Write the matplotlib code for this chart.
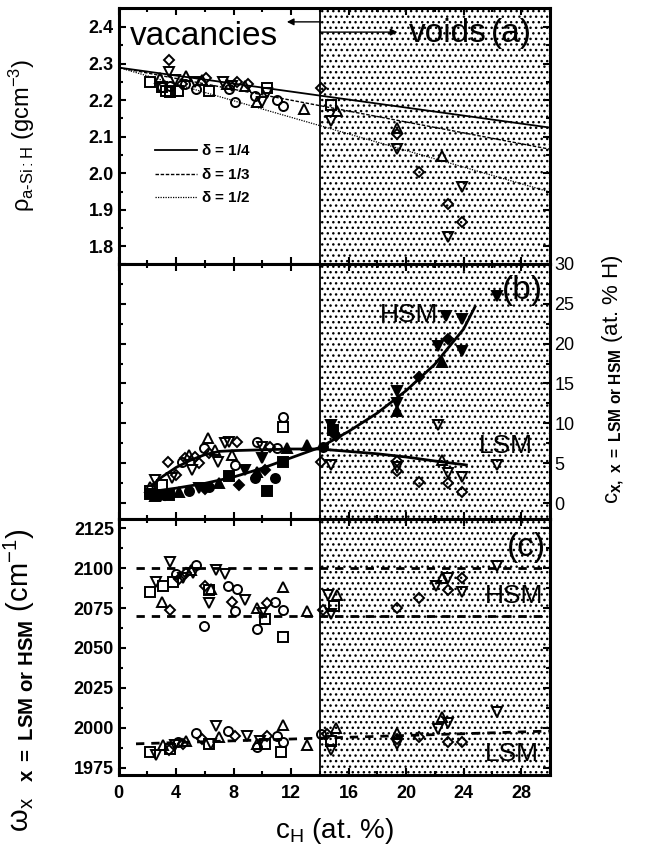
import matplotlib
matplotlib.use("Agg")
import matplotlib.pyplot as plt
from matplotlib.ticker import MultipleLocator

plt.rcParams["font.family"] = ["Liberation Sans", "DejaVu Sans"]
plt.rcParams["mathtext.fontset"] = "custom"
plt.rcParams["mathtext.rm"] = "Liberation Sans"
plt.rcParams["mathtext.it"] = "Liberation Sans:italic"
plt.rcParams["mathtext.bf"] = "Liberation Sans:bold"
plt.rcParams["hatch.linewidth"] = 1.0

# ---- panel (a): density ----------------------------------------------------
a_sq_x = [2.2, 3.0, 3.3, 3.6, 4.1, 6.3, 10.3, 14.8]
a_sq_y = [2.25, 2.235, 2.225, 2.222, 2.225, 2.225, 2.233, 2.188]
a_ci_x = [3.0, 3.6, 4.6, 5.4, 7.7, 8.1, 9.5, 11.0, 11.4]
a_ci_y = [2.235, 2.24, 2.245, 2.23, 2.23, 2.195, 2.21, 2.2, 2.183]
a_up_x = [2.9, 4.7, 5.8, 7.5, 8.8, 9.6, 12.9, 15.2, 19.35, 22.5]
a_up_y = [2.26, 2.265, 2.255, 2.245, 2.24, 2.195, 2.175, 2.17, 2.125, 2.047]
a_dn_x = [3.5, 3.9, 5.3, 7.25, 7.9, 10.0, 10.3, 14.8, 19.35, 23.9, 22.9]
a_dn_y = [2.278, 2.255, 2.25, 2.25, 2.24, 2.196, 2.22, 2.142, 2.066, 1.962, 1.826]
a_di_x = [3.5, 4.4, 6.1, 8.2, 9.0, 14.1, 19.35, 20.9, 22.9, 23.9]
a_di_y = [2.31, 2.245, 2.26, 2.25, 2.245, 2.233, 2.107, 2.003, 1.916, 1.867]

fit_x = [0, 30]
rho_d14 = [2.289, 2.125]
rho_d13 = [2.289, 2.066]
rho_d12 = [2.289, 1.949]

# ---- panel (b): concentrations ---------------------------------------------
# open = LSM, filled = HSM
bl_sq = [(2.16, 1.6), (3.0, 2.3), (11.4, 9.6)]
bl_ci = [(4.4, 5.2), (5.9, 6.9), (8.1, 4.8), (9.6, 7.7), (11.0, 6.9), (11.4, 10.8)]
bl_up = [(2.2, 2.0), (4.9, 6.1), (6.2, 8.2), (6.7, 6.7), (7.9, 6.1), (22.5, 5.4)]
bl_dn = [(2.5, 2.9), (3.7, 3.2), (5.1, 4.2), (6.9, 5.2), (7.4, 7.6), (7.7, 7.7),
         (10.0, 7.1), (14.8, 4.8), (19.35, 4.6), (22.2, 9.8), (22.9, 3.8),
         (23.9, 3.3), (26.3, 4.8)]
bl_di = [(3.4, 5.2), (4.0, 3.5), (4.6, 5.7), (5.3, 5.8), (5.6, 5.0), (6.3, 6.3),
         (8.2, 7.7), (10.5, 7.1), (14.1, 5.2), (19.35, 5.3), (19.35, 4.0),
         (20.9, 2.7), (22.9, 2.5), (23.9, 1.4)]

bh_sq = [(2.2, 1.2), (3.5, 1.0), (7.7, 3.4), (10.3, 1.6), (11.4, 5.2), (14.9, 9.2)]
bh_ci = [(2.9, 1.0), (4.9, 1.6), (6.3, 2.0), (9.5, 3.2), (10.9, 3.2), (14.2, 7.1)]
bh_up = [(2.5, 0.9), (4.2, 1.4), (7.0, 2.5), (9.6, 3.9), (11.7, 6.9), (13.1, 7.3),
         (19.35, 11.5), (22.5, 17.7)]
bh_dn = [(5.6, 1.9), (8.8, 4.2), (10.0, 5.7), (14.8, 9.8), (19.35, 12.6),
         (19.35, 14.0), (22.2, 19.7), (23.9, 19.1), (22.8, 23.5), (23.9, 23.1),
         (26.3, 25.9)]
bh_di = [(3.2, 1.1), (6.0, 1.8), (8.4, 2.3), (10.2, 4.2), (15.1, 8.4),
         (20.9, 15.8), (22.9, 20.6)]

hsm_fit_x = [2.0, 4, 6, 8, 10, 12, 14, 16, 18, 20, 22, 24, 24.8]
hsm_fit_y = [1.4, 1.9, 2.5, 3.3, 4.4, 5.7, 7.0, 9.0, 11.3, 14.1, 17.4, 21.8, 24.6]
lsm_fit_x = [2.4, 3, 4, 5, 6, 7, 8, 10, 12, 14, 16, 18, 20, 22, 24.2]
lsm_fit_y = [2.4, 3.3, 4.5, 5.4, 6.1, 6.5, 6.6, 6.7, 6.8, 6.8, 6.5, 6.2, 5.8, 5.3, 4.8]

# ---- panel (c): stretching mode frequencies --------------------------------
ch_sq = [(2.16, 2085), (3.1, 2089), (3.8, 2091), (6.3, 2086), (10.2, 2068),
         (11.4, 2057), (15.0, 2076)]
ch_ci = [(4.0, 2096), (5.4, 2102), (5.9, 2064), (7.6, 2089), (8.2, 2087),
         (8.1, 2073), (9.6, 2062), (10.9, 2079), (11.4, 2074)]
ch_up = [(3.0, 2079), (5.0, 2099), (6.4, 2087), (9.6, 2075), (11.4, 2088),
         (13.1, 2073), (15.2, 2083), (22.5, 2094)]
ch_dn = [(2.6, 2091), (3.55, 2104), (4.5, 2094), (5.2, 2097), (6.8, 2099),
         (7.4, 2096), (6.3, 2078), (8.8, 2080), (10.0, 2072), (14.6, 2083),
         (14.8, 2071), (22.1, 2089), (22.9, 2094), (23.9, 2085), (26.3, 2101)]
ch_di = [(3.55, 2074), (4.2, 2093), (4.7, 2097), (6.0, 2089), (7.9, 2079),
         (10.3, 2078), (14.2, 2074), (19.35, 2075), (20.9, 2081), (22.9, 2086),
         (23.9, 2094)]

cl_sq = [(2.16, 1985), (3.6, 1987), (6.3, 1990), (10.2, 1990), (11.3, 1985),
         (14.8, 1992)]
cl_ci = [(4.1, 1991), (5.4, 1997), (7.6, 1998), (9.6, 1988), (11.0, 1995),
         (11.4, 1991), (14.1, 1996)]
cl_up = [(3.1, 1989), (4.7, 1992), (7.0, 1994), (9.6, 1990), (11.4, 2002),
         (13.1, 1989), (15.1, 2000), (19.35, 1997), (22.5, 2007)]
cl_dn = [(2.6, 1983), (3.9, 1989), (6.4, 1990), (6.8, 2001), (8.9, 1995),
         (9.8, 1992), (14.8, 1986), (19.35, 1990), (22.2, 1999), (22.9, 2003),
         (26.3, 2010)]
cl_di = [(3.5, 1986), (4.5, 1990), (5.8, 1993), (8.1, 1995), (10.3, 1995),
         (14.5, 1996), (19.35, 1993), (20.9, 1994), (22.9, 1991), (23.9, 1991)]

hsm_lines = [2100, 2070]
lsm_line_x = [1.2, 30]
lsm_line_y = [1990, 1998]

VOID_START = 14

MK = {"sq": ("s", 6.5), "ci": ("o", 6.5), "up": ("^", 6.5),
      "dn": ("v", 6.5), "di": ("D", 5.0)}


def pts(ax, data, key, filled=False):
    m, ms = MK[key]
    xs = [p[0] for p in data]
    ys = [p[1] for p in data]
    ax.plot(xs, ys, ls="none", marker=m, ms=ms, mew=1.4, mec="k",
            mfc="k" if filled else "none", zorder=5)


def style(ax):
    ax.set_xlim(0, 30)
    ax.axvspan(VOID_START, 30, facecolor="white", edgecolor="k", hatch="...",
               lw=0, zorder=0)
    ax.axvline(VOID_START, color="k", lw=1.3, zorder=3)
    ax.xaxis.set_major_locator(MultipleLocator(4))
    ax.xaxis.set_minor_locator(MultipleLocator(2))
    ax.tick_params(which="both", direction="in", top=True, right=True,
                   width=1.5, labelsize=13)
    ax.tick_params(which="major", length=5)
    ax.tick_params(which="minor", length=3)
    ax.tick_params(axis="x", pad=7)
    for s in ax.spines.values():
        s.set_linewidth(2.2)
    for lab in ax.get_xticklabels() + ax.get_yticklabels():
        lab.set_fontweight("bold")


fig = plt.figure(figsize=(6.49, 8.48), dpi=100)
L, W, H = 0.183, 0.664, 0.3015
ax_a = fig.add_axes([L, 0.0861 + 2 * H, W, H])
ax_b = fig.add_axes([L, 0.0861 + H, W, H])
ax_c = fig.add_axes([L, 0.0861, W, H])

# panel (a)
ax_a.plot(fit_x, rho_d14, "k-", lw=1.3, label=r"$\mathbf{\delta}$ = 1/4")
ax_a.plot(fit_x, rho_d13, "k", ls=(0, (2.5, 1.2)), lw=1.0,
          label=r"$\mathbf{\delta}$ = 1/3")
ax_a.plot(fit_x, rho_d12, "k", ls=(0, (1, 1)), lw=0.9,
          label=r"$\mathbf{\delta}$ = 1/2")
pts(ax_a, list(zip(a_sq_x, a_sq_y)), "sq")
pts(ax_a, list(zip(a_ci_x, a_ci_y)), "ci")
pts(ax_a, list(zip(a_up_x, a_up_y)), "up")
pts(ax_a, list(zip(a_dn_x, a_dn_y)), "dn")
pts(ax_a, list(zip(a_di_x, a_di_y)), "di")
ax_a.set_ylim(1.753, 2.452)
ax_a.yaxis.set_major_locator(MultipleLocator(0.1))
ax_a.yaxis.set_minor_locator(MultipleLocator(0.05))
ax_a.yaxis.set_major_formatter(lambda v, p: f"{v:.1f}")
style(ax_a)
ax_a.tick_params(labelbottom=False)
leg = ax_a.legend(loc="upper left", bbox_to_anchor=(0.085, 0.47), frameon=False,
                  borderpad=0, borderaxespad=0, handlelength=2.7,
                  handletextpad=0.3, labelspacing=0.55,
                  prop={"size": 11, "weight": "bold"})
ax_a.text(0.75, 2.351, "vacancies", fontsize=24, ha="left", va="baseline")
ax_a.text(20.2, 2.359, "voids", fontsize=24, ha="left", va="baseline")
ax_a.text(25.9, 2.359, "(a)", fontsize=24, ha="left", va="baseline")
ax_a.annotate("", xy=(11.7, 2.414), xytext=(VOID_START, 2.414),
              arrowprops=dict(arrowstyle="-|>", color="k", lw=1.0,
                              mutation_scale=10, shrinkA=0, shrinkB=0))
ax_a.annotate("", xy=(19.4, 2.386), xytext=(VOID_START, 2.386),
              arrowprops=dict(arrowstyle="-|>", color="k", lw=1.0,
                              mutation_scale=10, shrinkA=0, shrinkB=0))
ax_a.set_ylabel(r"ρ$_{\mathrm{a\text{-}Si:H}}$ (gcm$^{-3}$)", fontsize=17)
ax_a.yaxis.set_label_coords(-0.19, 0.5)

# panel (b)
ax_b.plot(hsm_fit_x, hsm_fit_y, "k-", lw=2.0, zorder=4)
ax_b.plot(lsm_fit_x, lsm_fit_y, "k-", lw=2.0, zorder=4)
for data, key in [(bl_sq, "sq"), (bl_ci, "ci"), (bl_up, "up"), (bl_dn, "dn"),
                  (bl_di, "di")]:
    pts(ax_b, data, key)
for data, key in [(bh_sq, "sq"), (bh_ci, "ci"), (bh_up, "up"), (bh_dn, "dn"),
                  (bh_di, "di")]:
    pts(ax_b, data, key, filled=True)
ax_b.set_ylim(-2, 30)
ax_b.yaxis.set_major_locator(MultipleLocator(5))
ax_b.yaxis.set_minor_locator(MultipleLocator(2.5))
style(ax_b)
ax_b.tick_params(labelbottom=False, labelleft=False, labelright=True)
for lab in ax_b.get_yticklabels(which="both"):
    lab.set_fontweight("normal")
ax_b.yaxis.set_label_position("right")
ax_b.set_ylabel(r"c$_{\mathbf{x,\ x\ =\ LSM\ or\ HSM}}$ (at. % H)", fontsize=16,
                rotation=90)
ax_b.yaxis.set_label_coords(1.118, 0.55)
ax_b.text(26.7, 25.6, "(b)", fontsize=24, ha="left", va="baseline")
ax_b.text(18.2, 22.7, "HSM", fontsize=19, ha="left", va="baseline")
ax_b.text(25.1, 6.3, "LSM", fontsize=19, ha="left", va="baseline")

# panel (c)
for yv in hsm_lines:
    ax_c.plot([lsm_line_x[0], 30], [yv, yv], "k", ls=(0, (3, 2.5)), lw=2.0,
              zorder=2)
ax_c.plot(lsm_line_x, lsm_line_y, "k", ls=(0, (3, 2.5)), lw=2.0, zorder=2)
for data, key in [(ch_sq, "sq"), (ch_ci, "ci"), (ch_up, "up"), (ch_dn, "dn"),
                  (ch_di, "di"), (cl_sq, "sq"), (cl_ci, "ci"), (cl_up, "up"),
                  (cl_dn, "dn"), (cl_di, "di")]:
    pts(ax_c, data, key)
ax_c.set_ylim(1970.5, 2130.5)
ax_c.yaxis.set_major_locator(MultipleLocator(25))
ax_c.yaxis.set_minor_locator(MultipleLocator(12.5))
style(ax_c)
ax_c.text(27.0, 2107.5, "(c)", fontsize=24, ha="left", va="baseline")
ax_c.text(25.5, 2078, "HSM", fontsize=19, ha="left", va="baseline")
ax_c.text(25.5, 1979, "LSM", fontsize=19, ha="left", va="baseline")
ax_c.set_ylabel(r"ω$_{\mathrm{x}}$  $_{\mathbf{x\ =\ LSM\ or\ HSM}}$ (cm$^{-1}$)",
                fontsize=21)
ax_c.yaxis.set_label_coords(-0.19, 0.37)
ax_c.set_xlabel(r"c$_{\mathrm{H}}$ (at. %)", fontsize=20, labelpad=10)

fig.savefig("out.png", dpi=100)
